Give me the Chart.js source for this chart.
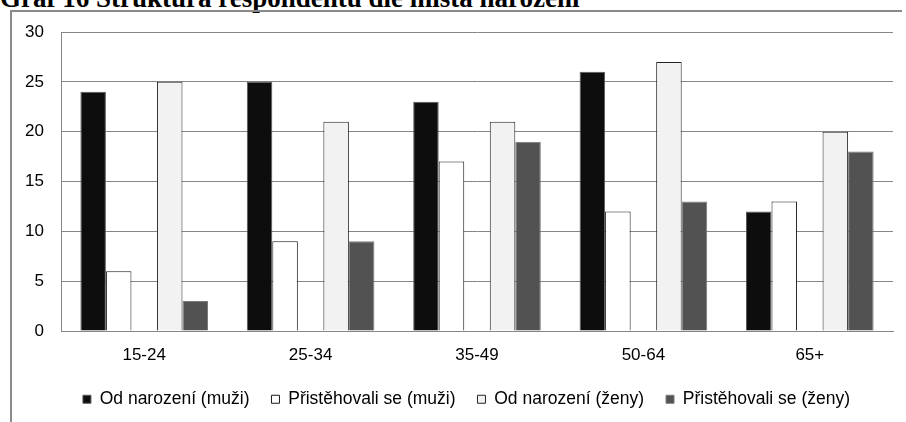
<!DOCTYPE html>
<html>
<head>
<meta charset="utf-8">
<script src="https://cdn.jsdelivr.net/npm/chart.js@4/dist/chart.umd.min.js"></script>
<style>
  html, body { margin: 0; padding: 0; background: #fff; width: 906px; height: 422px; overflow: hidden; }
  #wrap { position: relative; width: 906px; height: 422px; overflow: hidden; }
  #title { position: absolute; left: 0; top: -15px; font: bold 27px "Liberation Serif", "Times New Roman", serif; line-height: 27px; white-space: nowrap; color: #000; }
  #frame { position: absolute; left: 10px; top: 10px; width: 890px; height: 420px; border-left: 2px solid #8a8a8a; border-top: 2px solid #8a8a8a; }
  canvas { position: absolute; left: 0; top: 0; }
</style>
</head>
<body>
<div id="wrap">
  <div id="title">Graf 16 Struktura respondentů dle místa narození</div>
  <div id="frame"></div>
  <canvas id="c" width="906" height="450"></canvas>
</div>
<script>
const categories = ['15-24', '25-34', '35-49', '50-64', '65+'];
const muziOdNarozeni = [24, 25, 23, 26, 12];
const muziPristehovali = [6, 9, 17, 12, 13];
const zenyOdNarozeni = [25, 21, 21, 27, 20];
const zenyPristehovali = [3, 9, 19, 13, 18];
const emptySlot = [null, null, null, null, null];
const yTicks = [0, 5, 10, 15, 20, 25, 30];

const FONT = '"Liberation Sans", Arial, sans-serif';

const legendShift = {
  id: 'legendShift',
  afterLayout(chart) {
    if (chart.legend) { chart.legend.left += 40; }
  }
};

new Chart(document.getElementById('c'), {
  type: 'bar',
  data: {
    labels: categories,
    datasets: [
      { label: 'Od narození (muži)', data: muziOdNarozeni, backgroundColor: '#0d0d0d', borderColor: '#5a5a5a', borderWidth: 1 },
      { label: 'Přistěhovali se (muži)', data: muziPristehovali, backgroundColor: '#ffffff', borderColor: '#1a1a1a', borderWidth: 1 },
      { label: '', data: emptySlot, backgroundColor: 'rgba(0,0,0,0)', borderWidth: 0 },
      { label: 'Od narození (ženy)', data: zenyOdNarozeni, backgroundColor: '#f2f2f2', borderColor: '#262626', borderWidth: 1 },
      { label: 'Přistěhovali se (ženy)', data: zenyPristehovali, backgroundColor: '#525252', borderColor: '#7a7a7a', borderWidth: 1 }
    ]
  },
  plugins: [legendShift],
  options: {
    responsive: false,
    animation: false,
    devicePixelRatio: 1,
    datasets: { bar: { categoryPercentage: 0.767, barPercentage: 1.0 } },
    layout: { padding: { left: 0, top: 32, right: 13, bottom: 32 } },
    plugins: {
      tooltip: { enabled: false },
      legend: {
        position: 'bottom',
        labels: {
          filter: (item) => item.text !== '',
          font: { family: FONT, size: 17.5 },
          color: '#000',
          boxWidth: 8,
          boxHeight: 8,
          padding: 22
        }
      }
    },
    scales: {
      x: {
        grid: { display: false, drawTicks: false },
        border: { display: true, color: '#868686', width: 1 },
        ticks: { font: { family: FONT, size: 17 }, color: '#000', padding: 14 },
        afterFit: (s) => { s.height = 37.5; }
      },
      y: {
        min: 0, max: 30,
        afterBuildTicks: (s) => { s.ticks = yTicks.map(v => ({ value: v })); },
        grid: { color: '#868686', lineWidth: 1, drawTicks: false },
        border: { display: true, color: '#868686', width: 1 },
        ticks: { font: { family: FONT, size: 17 }, color: '#000', padding: 17 },
        afterFit: (s) => { s.width = 61; }
      }
    }
  }
});
</script>
</body>
</html>
